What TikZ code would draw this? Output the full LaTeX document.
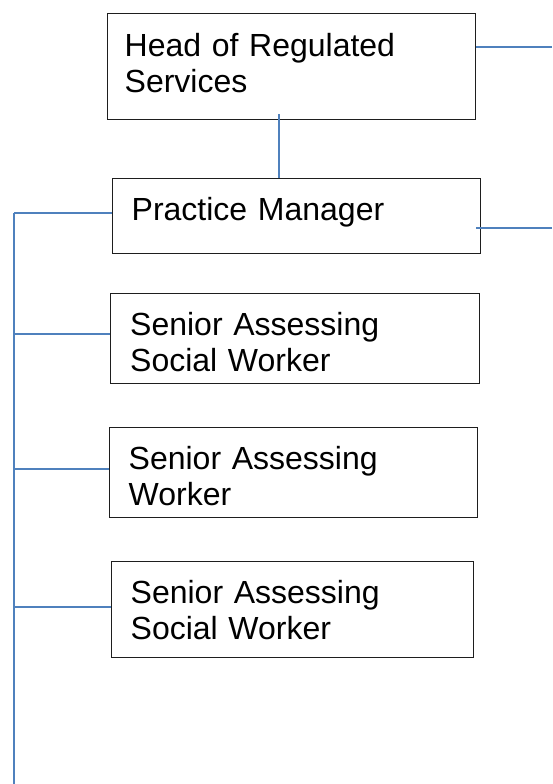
\documentclass[tikz,border=0pt]{standalone}
\usepackage{fontspec}
\setmainfont{Liberation Sans}
\definecolor{linkblue}{RGB}{79,129,189}
\definecolor{boxline}{RGB}{30,30,30}
\begin{document}
\begin{tikzpicture}[x=1pt,y=-1pt,
  rolebox/.style={draw=boxline,line width=1.3pt,fill=white,anchor=north west,inner sep=0pt},
  roletext/.style={anchor=base west,inner sep=0pt,align=left,text width=340pt,font=\fontsize{32}{36}\selectfont},
  link/.style={draw=linkblue,line width=1.4pt}]
\useasboundingbox (0,0) rectangle (552,784);
% boxes
\node[rolebox,minimum width=368pt,minimum height=106pt] (b1) at (107,13) {};
\node[rolebox,minimum width=368pt,minimum height=75pt] (b2) at (112,178) {};
\node[rolebox,minimum width=369pt,minimum height=90pt] (b3) at (110,293) {};
\node[rolebox,minimum width=368pt,minimum height=90pt] (b4) at (109,427) {};
\node[rolebox,minimum width=362pt,minimum height=96pt] (b5) at (111,561) {};
% texts
\node[roletext] (t1) at (124.5,56.7) {Head of Regulated\\Services};
\node[roletext] (t2) at (131.5,220) {Practice Manager};
\node[roletext] (t3) at (130,335) {Senior Assessing\\Social Worker};
\node[roletext] (t4) at (128.5,469) {Senior Assessing\\Worker};
\node[roletext] (t5) at (130.5,603) {Senior Assessing\\Social Worker};
% connector coordinates
\coordinate (r1) at (552,47);
\coordinate (r2) at (552,228);
\coordinate (c1) at (279,114);
\coordinate (s2) at (14,213);
\coordinate (s3) at (14,334);
\coordinate (s4) at (14,469);
\coordinate (s5) at (14,607);
\coordinate (sEnd) at (14,784);
% connectors
\draw[link] (b1.east |- r1) -- (r1);
\draw[link] ([xshift=-5pt]b2.east |- r2) -- (r2);
\draw[link] (c1) -- (c1 |- b2.north);
\draw[link] (s2) -- (sEnd);
\draw[link] (s2) -- (b2.west |- s2);
\draw[link] (s3) -- (b3.west |- s3);
\draw[link] (s4) -- (b4.west |- s4);
\draw[link] (s5) -- (b5.west |- s5);
\end{tikzpicture}
\end{document}
